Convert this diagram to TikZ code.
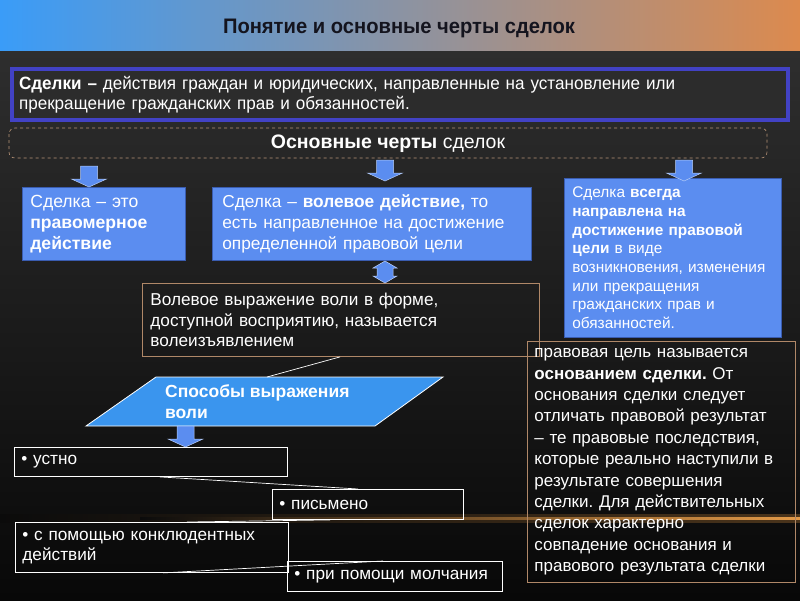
\documentclass[tikz,border=0pt]{standalone}
\usepackage{fontspec}
\setmainfont{Liberation Sans}
\newfontfamily\narrowfont[FakeStretch=0.96]{Liberation Sans}
\usetikzlibrary{calc}
\definecolor{bgtop}{HTML}{2E2E2E}
\definecolor{bgbot}{HTML}{080808}
\definecolor{titleL}{HTML}{3A9CF8}
\definecolor{titleM}{HTML}{9C9DA8}
\definecolor{titleR}{HTML}{DC8A4E}
\definecolor{titletext}{HTML}{14141E}
\definecolor{defborder}{HTML}{4242C4}
\definecolor{deffill}{HTML}{2C2C2C}
\definecolor{boxblue}{HTML}{5B8DF0}
\definecolor{boxedge}{HTML}{3A5CB0}
\definecolor{parblue}{HTML}{3A95EE}
\definecolor{tanline}{HTML}{B08868}
\definecolor{glow}{HTML}{E39A48}
\newcommand\fsz[2]{\fontsize{#1}{#2}\selectfont}
\tikzset{
  bluebox/.style={draw=boxedge, line width=0.6pt, fill=boxblue, text=white, align=left, anchor=north west, inner xsep=8pt, inner ysep=0pt},
  tanbox/.style={draw=tanline, line width=0.9pt, text=white, align=left, anchor=north west, inner xsep=8pt, inner ysep=0pt},
  bullbox/.style={draw=white, line width=0.9pt, text=white, align=left, anchor=north west, inner xsep=7pt, inner ysep=0pt},
  conn/.style={draw=white, line width=0.7pt},
  downarrow/.pic={
    \path[fill=boxblue, draw=white!55!boxblue, line width=0.5pt]
      (-8.5,0) -- (8.5,0) -- (8.5,13) -- (17.5,13) -- (0,21) -- (-17.5,13) -- (-8.5,13) -- cycle;
  },
}
\begin{document}
\frenchspacing
\begin{tikzpicture}[x=1pt,y=-1pt]
\useasboundingbox (0,0) rectangle (800,600);
% background
\shade[top color=bgtop, bottom color=bgbot] (0,50) rectangle (800,600);
\shade[left color=bgbot!92!bgtop, right color=glow!30!bgbot] (0,514) rectangle (800,522);
\shade[left color=bgbot!92!bgtop, right color=glow] (140,517) rectangle (800,519.5);
\shade[left color=titleL, middle color=titleM, right color=titleR] (0,0) rectangle (800,50);

% title
\node[text=titletext, font=\narrowfont\bfseries\fsz{21}{24}] (title) at (399,28) {Понятие и основные черты сделок};

% definition
\node[draw=defborder, line width=4pt, fill=deffill, text=white, align=left, anchor=north west,
      minimum width=776, minimum height=51, text width=762, inner xsep=7pt, inner ysep=0pt,
      font=\narrowfont\fsz{17.8}{20.5}] (def) at (10,67)
  {\textbf{Сделки –} действия граждан и юридических, направленные на установление или\\прекращение гражданских прав и обязанностей.};

% main features
\draw[tanline!90!white, dashed, line width=0.6pt, rounded corners=6pt] (9,128) rectangle (767,158);
\node[text=white, font=\fsz{19.5}{22}] (feat) at (388,144) {\textbf{Основные черты} сделок};

% blue boxes
\node[bluebox, minimum width=163, minimum height=73, text width=147, font=\fsz{17.6}{21}] (boxA) at (22,187)
  {Сделка – это\\\textbf{правомерное}\\\textbf{действие}};
\node[bluebox, minimum width=315, minimum height=73, text width=299, inner xsep=10pt, font=\fsz{17.3}{21}] (boxB) at (212,187)
  {Сделка – \textbf{волевое действие,} то\\есть направленное на достижение\\определенной правовой цели};
\node[bluebox, minimum width=217, minimum height=159, text width=201, font=\fsz{15.4}{18.7}] (boxC) at (564,178)
  {Сделка \textbf{всегда}\\\textbf{направлена на}\\\textbf{достижение правовой}\\\textbf{цели} в виде\\возникновения, изменения\\или прекращения\\гражданских прав и\\обязанностей.};

% arrows from features
\pic at (89,166) {downarrow};
\pic at (385,160) {downarrow};
\pic at (684,160) {downarrow};

% will expression
\node[tanbox, minimum width=397, minimum height=73, text width=381, inner xsep=7pt, font=\fsz{17.2}{20.5}] (vol) at (142,283)
  {Волевое выражение воли в форме,\\доступной восприятию, называется\\волеизъявлением};

% double arrow between boxB and vol
\path[fill=boxblue, draw=white!60!boxblue, line width=0.5pt]
  (385,261) -- (397,268) -- (393,268) -- (393,276) -- (397,276) -- (385,283)
  -- (373,276) -- (377,276) -- (377,268) -- (373,268) -- cycle;

% legal purpose box
\node[tanbox, minimum width=268, minimum height=241, text width=254, inner xsep=7pt, font=\fsz{17}{21.4}] (purpose) at (527,341)
  {правовая цель называется\\\textbf{основанием сделки.} От\\основания сделки следует\\отличать правовой результат\\– те правовые последствия,\\которые реально наступили в\\результате совершения\\сделки. Для действительных\\сделок характерно\\совпадение основания и\\правового результата сделки};

% parallelogram
\coordinate (ptl) at (156,377);
\coordinate (ptr) at (443,377);
\coordinate (pbr) at (375,426);
\coordinate (pbl) at (86,426);
\path[fill=parblue, draw=white, line width=0.8pt] (ptl) -- (ptr) -- (pbr) -- (pbl) -- cycle;
\node[text=white, align=left, anchor=north west, inner sep=0pt, font=\bfseries\fsz{17.5}{21}] (ways) at (165,384)
  {Способы выражения\\воли};
\coordinate (volc) at ($(vol.south west)+(198,0)$);
\coordinate (parc) at ($(ptl)+(111,0)$);
\draw[conn] (volc) -- (parc);

% arrow down from parallelogram
\pic at (185.5,426) {downarrow};

% bullets
\node[bullbox, minimum width=273, minimum height=29, text width=259, font=\fsz{17.2}{20}] (b1) at (14,447) {• устно};
\node[bullbox, minimum width=191, minimum height=30, text width=177, font=\fsz{17.2}{20}] (b2) at (272,489) {• письмено};
\node[bullbox, minimum width=273, minimum height=50, text width=259, font=\fsz{17.2}{20}] (b3) at (15,522) {• с помощью конклюдентных\\действий};
\node[bullbox, minimum width=215, minimum height=30, text width=201, font=\fsz{17.2}{20}] (b4) at (287,561) {• при помощи молчания};

\draw[conn] ($(b1.south west)+(146,0)$) -- ($(b2.north west)+(86,0)$);
\draw[conn] ($(b2.south west)+(58,0)$) -- ($(b3.north west)+(172,0)$);
\draw[conn] ($(b3.south west)+(148,0)$) -- ($(b4.north west)+(96,0)$);
\end{tikzpicture}
\end{document}
